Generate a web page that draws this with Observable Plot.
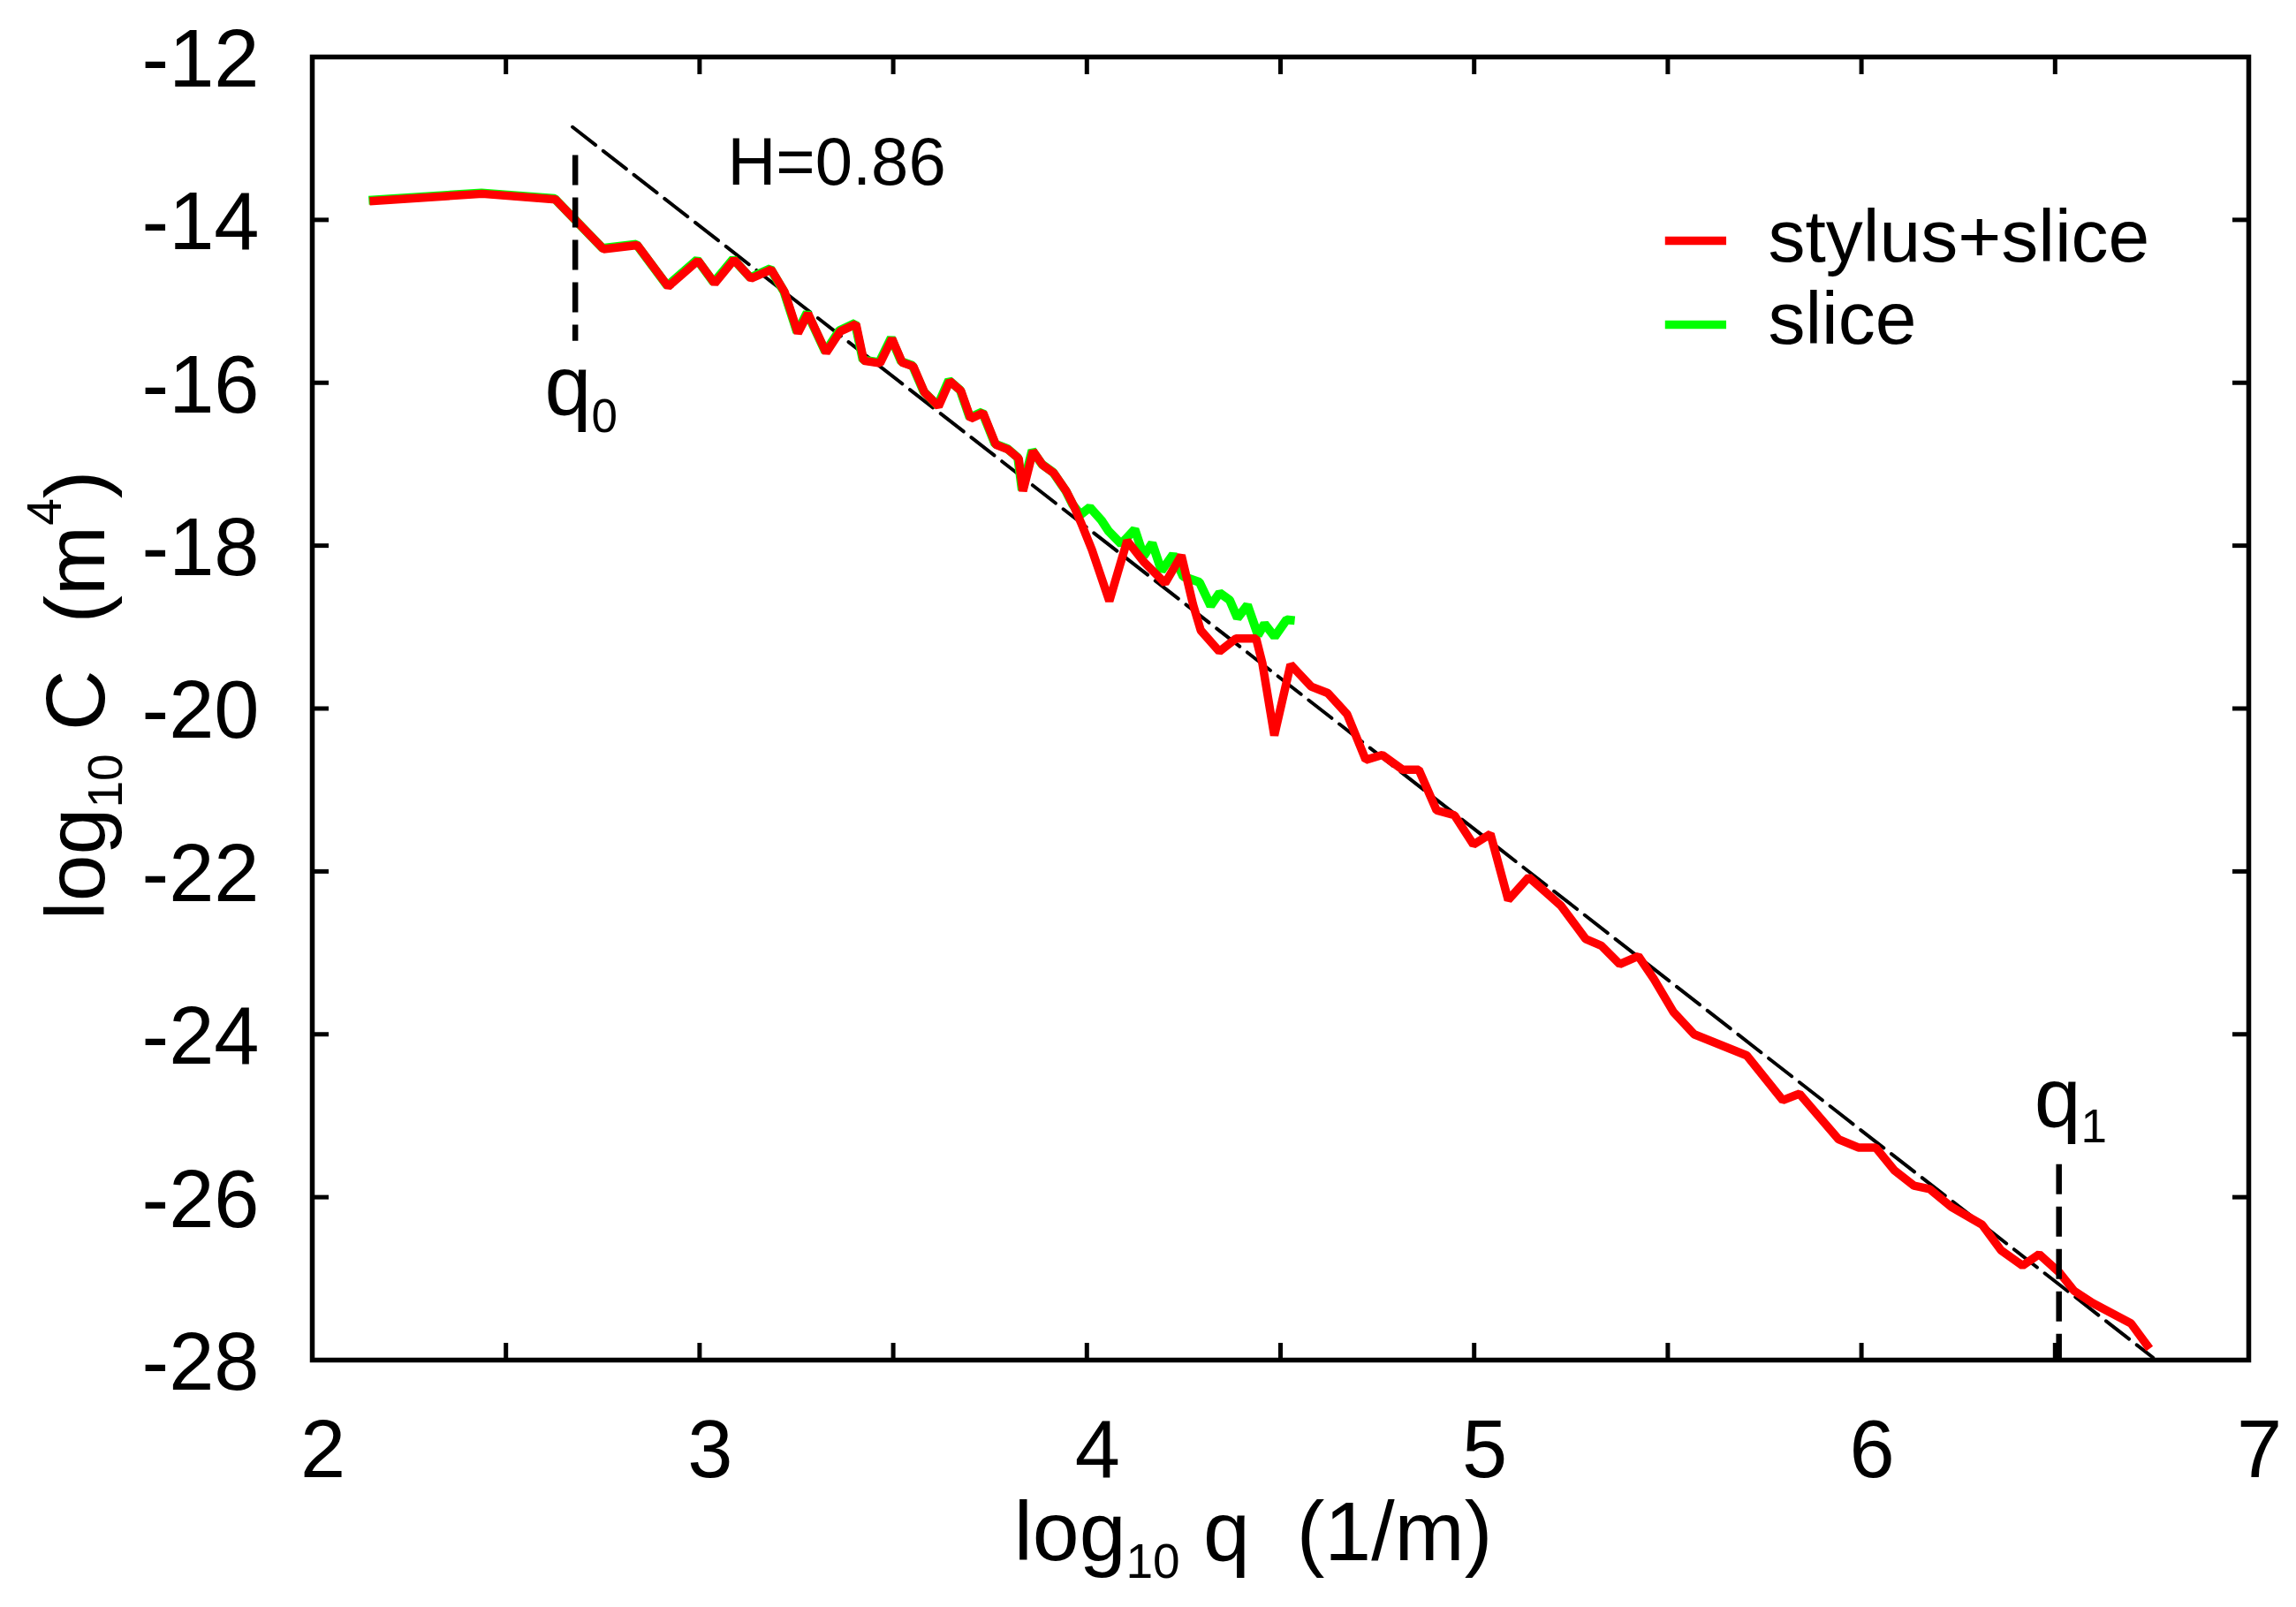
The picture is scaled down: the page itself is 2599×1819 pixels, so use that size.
<!DOCTYPE html>
<html><head><meta charset="utf-8">
<script src="https://cdn.jsdelivr.net/npm/d3@7"></script>
<script src="https://cdn.jsdelivr.net/npm/@observablehq/plot@0.6"></script>
<style>
html,body{margin:0;padding:0;background:#fff;overflow:hidden;}
svg{display:block;}
</style>
</head><body><div id="chart"></div>
<script>
// ---- data (log10 q, log10 C) ----
const stylusQ = [2.148,2.439,2.628,2.752,2.839,2.919,2.996,3.039,3.089,3.133,3.185,3.220,3.254,3.280,3.327,3.363,3.404,3.424,3.466,3.497,3.523,3.552,3.581,3.617,3.646,3.675,3.700,3.732,3.765,3.797,3.824,3.835,3.861,3.886,3.915,3.948,3.966,3.985,4.013,4.058,4.104,4.149,4.202,4.244,4.274,4.294,4.342,4.385,4.437,4.453,4.484,4.526,4.579,4.622,4.672,4.720,4.763,4.815,4.857,4.903,4.949,4.998,5.042,5.088,5.141,5.224,5.288,5.328,5.376,5.424,5.464,5.515,5.568,5.704,5.797,5.840,5.941,5.992,6.037,6.085,6.136,6.176,6.232,6.312,6.360,6.416,6.459,6.512,6.549,6.597,6.696,6.744];
const stylusC = [-13.77,-13.68,-13.75,-14.36,-14.31,-14.82,-14.50,-14.78,-14.49,-14.72,-14.61,-14.89,-15.39,-15.15,-15.63,-15.37,-15.28,-15.73,-15.76,-15.46,-15.75,-15.80,-16.12,-16.29,-15.98,-16.10,-16.44,-16.37,-16.76,-16.82,-16.93,-17.33,-16.84,-17.01,-17.11,-17.34,-17.51,-17.72,-18.05,-18.68,-17.94,-18.21,-18.46,-18.12,-18.72,-19.04,-19.30,-19.14,-19.14,-19.44,-20.33,-19.46,-19.73,-19.81,-20.07,-20.63,-20.57,-20.75,-20.75,-21.25,-21.31,-21.67,-21.54,-22.35,-22.07,-22.42,-22.83,-22.91,-23.14,-23.04,-23.32,-23.73,-24.00,-24.26,-24.81,-24.73,-25.29,-25.39,-25.39,-25.67,-25.86,-25.90,-26.12,-26.34,-26.65,-26.84,-26.70,-26.93,-27.15,-27.30,-27.55,-27.86];

const sliceQ = [2.148,2.439,2.628,2.752,2.839,2.919,2.996,3.039,3.089,3.133,3.185,3.220,3.254,3.280,3.327,3.363,3.404,3.424,3.466,3.497,3.523,3.552,3.581,3.617,3.646,3.675,3.700,3.732,3.765,3.797,3.824,3.835,3.861,3.886,3.915,3.948,3.966,3.986,4.010,4.040,4.058,4.091,4.126,4.149,4.171,4.195,4.225,4.251,4.293,4.322,4.345,4.371,4.391,4.417,4.444,4.461,4.487,4.518,4.539];
const sliceC = [-13.77,-13.68,-13.75,-14.36,-14.31,-14.82,-14.50,-14.78,-14.49,-14.72,-14.61,-14.89,-15.39,-15.15,-15.63,-15.37,-15.28,-15.73,-15.76,-15.46,-15.75,-15.80,-16.12,-16.29,-15.98,-16.10,-16.44,-16.37,-16.76,-16.82,-16.93,-17.33,-16.84,-17.01,-17.11,-17.34,-17.51,-17.63,-17.54,-17.70,-17.83,-17.99,-17.81,-18.14,-17.98,-18.32,-18.12,-18.39,-18.46,-18.75,-18.59,-18.68,-18.90,-18.74,-19.11,-18.97,-19.13,-18.92,-18.93];

// power-law fit line (H = 0.86)
const fitQ = [2.672, 6.753];
const fitC = [-12.86, -27.97];

// cutoff markers q0, q1
const cutoffQ = [2.679, 6.510];
const cutoffTop = [-13.21, -25.60];
const cutoffBottom = [-15.49, -28.00];
const cutoffLabelQ = [2.600, 6.446];
const cutoffLabelC = [-16.39, -25.13];
const cutoffSub = ["0", "1"];

// ticks
const xTickValues = [2,2.5,3,3.5,4,4.5,5,5.5,6,6.5,7];
const xLabelValues = [2,3,4,5,6,7];
const yTickValues = [-12,-14,-16,-18,-20,-22,-24,-26,-28];

// legend
const seriesNames = ["stylus+slice", "slice"];
const seriesColors = ["#ff0000", "#00ff00"];
const legendLineC = [-14.256, -15.286];
const legendTextC = [-14.516, -15.525];
const legendX = [5.494, 5.652, 5.759];

const slopeLabel = "H=0.86";
const slopeLabelQ = 3.072, slopeLabelC = -13.57;

// rich-text labels: [text, kind]
const xTitleParts = [["log",""],["10","sub"],[" q  (1/m)",""]];
const yTitleParts = [["log",""],["10","sub"],[" C  (m",""],["4","sup"],[")",""]];

// ---- build tables ----
const stylus = stylusQ.map((q,i)=>({q, c: stylusC[i]}));
const slice = sliceQ.map((q,i)=>({q, c: sliceC[i]}));
const fit = fitQ.map((q,i)=>({q, c: fitC[i]}));
const cutoffs = cutoffQ.map((q,i)=>({q, top: cutoffTop[i], bottom: cutoffBottom[i], lq: cutoffLabelQ[i], lc: cutoffLabelC[i], label: "q" + cutoffSub[i]}));
const legend = seriesNames.map((name,i)=>({name, color: seriesColors[i], c: legendLineC[i], ct: legendTextC[i], x1: legendX[0], x2: legendX[1], xt: legendX[2]}));
const joined = parts => parts.map(p=>p[0]).join("");

const FONT = "'Liberation Sans', Arial, Helvetica, sans-serif";
const TICK = 19;

const chart = Plot.plot({
  width: 2599, height: 1819,
  marginLeft: 353, marginRight: 54, marginTop: 64, marginBottom: 280,
  x: {domain: [2, 7]},
  y: {domain: [-28, -12]},
  style: {fontFamily: FONT, background: "white", color: "black"},
  marks: [
    Plot.frame({stroke: "black", strokeWidth: 5.5}),
    // inward ticks on all four sides
    Plot.axisX(xTickValues, {anchor: "bottom", tickSize: TICK, dy: -TICK, tickFormat: () => "", label: null, strokeWidth: 5}),
    Plot.axisX(xTickValues, {anchor: "top", tickSize: TICK, dy: TICK, tickFormat: () => "", label: null, strokeWidth: 5}),
    Plot.axisY(yTickValues, {anchor: "left", tickSize: TICK, dx: TICK, tickFormat: () => "", label: null, strokeWidth: 5}),
    Plot.axisY(yTickValues, {anchor: "right", tickSize: TICK, dx: -TICK, tickFormat: () => "", label: null, strokeWidth: 5}),
    // tick labels
    Plot.axisX(xLabelValues, {anchor: "bottom", tickSize: 0, tickPadding: 67, dx: 12, fontSize: 92, tickFormat: d => String(d), label: null}),
    Plot.axisY(yTickValues, {anchor: "left", tickSize: 0, tickPadding: 60, dy: 4, fontSize: 92, tickFormat: d => String(d), label: null}),
    // axis titles
    Plot.text([joined(xTitleParts)], {frameAnchor: "bottom", text: d => d, lineAnchor: "bottom", textAnchor: "middle", dy: 226, dx: -31, fontSize: 95}),
    Plot.text([joined(yTitleParts)], {frameAnchor: "left", text: d => d, lineAnchor: "bottom", textAnchor: "middle", rotate: -90, dx: -236, dy: -15, fontSize: 95}),
    // data
    Plot.line(fit, {x: "q", y: "c", stroke: "black", strokeWidth: 4, strokeDasharray: "33,11"}),
    Plot.line(slice, {x: "q", y: "c", stroke: seriesColors[1], strokeWidth: 10, dx: -1, dy: -1, strokeLinejoin: "miter", strokeLinecap: "butt"}),
    Plot.line(stylus, {x: "q", y: "c", stroke: seriesColors[0], strokeWidth: 9.5, strokeLinejoin: "miter", strokeLinecap: "butt"}),
    // cutoffs
    Plot.ruleX(cutoffs, {x: "q", y1: "top", y2: "bottom", stroke: "black", strokeWidth: 6.5, strokeDasharray: "34,14"}),
    Plot.text(cutoffs, {x: "lq", y: "lc", text: "label", textAnchor: "start", lineAnchor: "bottom", fontSize: 95}),
    // slope label
    Plot.text([slopeLabel], {x: () => slopeLabelQ, y: () => slopeLabelC, text: d => d, textAnchor: "start", lineAnchor: "bottom", fontSize: 76}),
    // legend
    Plot.ruleY(legend.filter((d,i)=>i===0), {y: "c", x1: "x1", x2: "x2", stroke: seriesColors[0], strokeWidth: 9.5}),
    Plot.ruleY(legend.filter((d,i)=>i===1), {y: "c", x1: "x1", x2: "x2", stroke: seriesColors[1], strokeWidth: 9.5}),
    Plot.text(legend, {x: "xt", y: "ct", text: "name", textAnchor: "start", lineAnchor: "bottom", fontSize: 84})
  ]
});

// turn plain labels into rich text with sub/superscripts
const SVGNS = "http://www.w3.org/2000/svg";
function richify(svg, parts, subSize, shiftSub, shiftSup) {
  const full = joined(parts);
  for (const t of svg.querySelectorAll("text")) {
    if (t.textContent !== full) continue;
    t.textContent = "";
    t.style.whiteSpace = "pre";
    let offset = 0;
    for (const [s, kind] of parts) {
      const ts = document.createElementNS(SVGNS, "tspan");
      const target = kind === "sub" ? shiftSub : kind === "sup" ? -shiftSup : 0;
      const d = target - offset;
      if (d !== 0) ts.setAttribute("dy", d);
      offset = target;
      if (kind) ts.setAttribute("font-size", subSize);
      ts.textContent = s;
      t.appendChild(ts);
    }
  }
}
richify(chart, xTitleParts, 55, 20, 49);
richify(chart, yTitleParts, 55, 20, 49);
richify(chart, [["q",""],["0","sub"]], 53, 20, 0);
richify(chart, [["q",""],["1","sub"]], 53, 18, 0);

document.getElementById("chart").appendChild(chart);
</script>
</body></html>
